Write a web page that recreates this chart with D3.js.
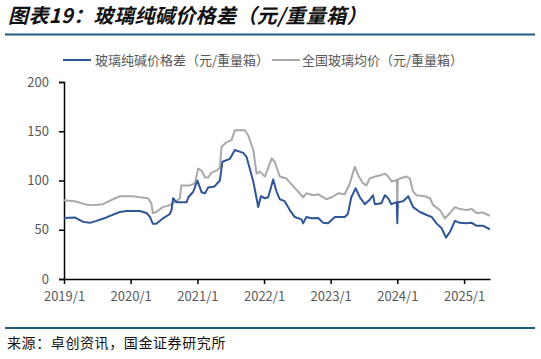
<!DOCTYPE html>
<html><head><meta charset="utf-8">
<script src="https://cdn.jsdelivr.net/npm/d3@7"></script>
<style>
html,body{margin:0;padding:0;background:#fff;}
svg{display:block;}
text{font-family:"Noto Sans CJK SC","Noto Sans",sans-serif;}
</style></head><body>
<svg id="c" width="541" height="359"></svg>
<script>
const titleText = "图表19：玻璃纯碱价格差（元/重量箱）";
const sourceText = "来源：卓创资讯，国金证券研究所";
const seriesNames = ["玻璃纯碱价格差（元/重量箱）", "全国玻璃均价（元/重量箱）"];
const yTicks = [0, 50, 100, 150, 200];
const xTickLabels = ["2019/1","2020/1","2021/1","2022/1","2023/1","2024/1","2025/1"];
const xDomain = ["2019-01-01", "2025-05-23"];

const spreadDates = ["2019-01-01","2019-03-01","2019-04-16","2019-05-22","2019-06-28","2019-08-21","2019-11-03","2019-12-09","2020-02-20","2020-03-28","2020-04-16","2020-05-02","2020-05-20","2020-06-26","2020-08-03","2020-08-12","2020-08-21","2020-09-07","2020-11-03","2020-11-12","2020-12-09","2021-01-01","2021-01-24","2021-02-12","2021-03-01","2021-04-05","2021-05-04","2021-05-18","2021-06-28","2021-07-25","2021-09-09","2021-09-27","2021-11-03","2021-11-21","2021-11-30","2021-12-15","2022-01-06","2022-01-24","2022-02-20","2022-03-10","2022-03-28","2022-04-24","2022-05-22","2022-06-18","2022-07-25","2022-08-03","2022-08-21","2022-09-18","2022-10-25","2022-11-21","2022-12-18","2023-01-24","2023-03-19","2023-04-05","2023-04-24","2023-05-18","2023-06-10","2023-07-07","2023-08-03","2023-08-21","2023-08-31","2023-10-06","2023-10-25","2023-11-12","2023-11-30","2023-12-29","2024-01-01","2024-01-04","2024-02-02","2024-03-01","2024-03-28","2024-05-04","2024-06-10","2024-07-07","2024-08-03","2024-08-31","2024-09-24","2024-10-16","2024-11-12","2024-12-09","2025-01-15","2025-02-12","2025-03-10","2025-04-16","2025-05-22"];
const spreadValues = [62,62.5,58,57,59,62.5,68,69,69,67,63,56,56,61.5,66,70,82,78,78,83,88.6,100,88,87,93,94,100,119,122,131,128,124,99,82,73,84,82,83,101,89,81,79,70,63,60.5,56.5,63,61.6,62,57,56.5,63,63,66,83,92,83,76,80.5,85,76,77,85,82,76,78,56.5,78,79,84,73,68,65,63,56.5,51.5,42,48,59,57,56.5,57,54,54,50.5];

const glassDates = ["2019-01-01","2019-03-01","2019-05-05","2019-06-08","2019-08-03","2019-09-27","2019-11-03","2020-01-15","2020-02-20","2020-04-05","2020-04-23","2020-05-02","2020-05-20","2020-06-26","2020-08-02","2020-09-07","2020-09-27","2020-10-05","2020-11-20","2020-12-18","2021-01-05","2021-01-24","2021-02-12","2021-03-01","2021-03-19","2021-04-16","2021-05-04","2021-05-13","2021-06-10","2021-07-07","2021-07-25","2021-09-18","2021-10-06","2021-11-03","2021-11-21","2021-12-09","2022-01-06","2022-02-12","2022-03-01","2022-03-28","2022-05-04","2022-06-10","2022-07-16","2022-08-03","2022-08-21","2022-09-27","2022-10-25","2022-12-09","2023-01-06","2023-02-12","2023-03-19","2023-04-16","2023-05-13","2023-05-31","2023-06-28","2023-07-16","2023-08-03","2023-08-31","2023-09-27","2023-10-25","2023-11-12","2023-11-30","2023-12-29","2024-01-01","2024-01-04","2024-01-15","2024-02-20","2024-03-10","2024-03-28","2024-04-16","2024-05-31","2024-06-28","2024-07-16","2024-08-21","2024-09-18","2024-10-06","2024-11-12","2024-12-09","2025-01-15","2025-02-12","2025-03-10","2025-04-16","2025-05-22"];
const glassValues = [80,79,75.5,75,76,81,84,84,83,82,77,67,68,73,75,79,82,95,95,97,112,110,103,103,108,110,113,134,139,141,151,151,146,131,107,109,104,122.5,119,104,102,94,87,83,87,85,86,81,83,87,86,97,114,105.5,97,95,102,104,105,107,104,99,100.5,72,101,102,104,102,88.6,85,84,82,75,70,61.6,65,73,71,70,71,67,67.5,64];

const colors = ["#2F5597", "#A9A9A9"];
const parse = d3.timeParse("%Y-%m-%d");

const svg = d3.select("#c");
const x = d3.scaleTime().domain(xDomain.map(parse)).range([64, 490]);
const y = d3.scaleLinear().domain([0, 200]).range([279, 82]);

// title
svg.append("text").attr("x", 8).attr("y", 23).text(titleText)
  .attr("font-size", 20).attr("letter-spacing", 0.4).attr("font-weight", "bold")
  .attr("font-style", "italic").attr("fill", "#111");
svg.append("line").attr("x1", 5).attr("x2", 535).attr("y1", 34.5).attr("y2", 34.5)
  .attr("stroke", "#1E5C7E").attr("stroke-width", 2);
svg.append("line").attr("x1", 5).attr("x2", 535).attr("y1", 328).attr("y2", 328)
  .attr("stroke", "#1E5C7E").attr("stroke-width", 2);
svg.append("text").attr("x", 7).attr("y", 348).text(sourceText)
  .attr("font-size", 14).attr("letter-spacing", 0.6).attr("fill", "#111");

// legend
const legendPos = [{lx: 63, tx: 95}, {lx: 272, tx: 302}];
seriesNames.forEach((n, i) => {
  svg.append("line").attr("x1", legendPos[i].lx).attr("x2", legendPos[i].lx + 28)
    .attr("y1", 60).attr("y2", 60).attr("stroke", colors[i]).attr("stroke-width", 2);
  svg.append("text").attr("x", legendPos[i].tx).attr("y", 65).text(n)
    .attr("font-size", 13).attr("fill", "#595959");
});

// axes
const yAxis = d3.axisLeft(y).tickValues(yTicks).tickSize(5).tickPadding(10);
const gy = svg.append("g").attr("transform", "translate(64,0)").call(yAxis);
gy.select(".domain").attr("stroke", "#000").attr("stroke-width", 1.5);
gy.selectAll(".tick line").attr("stroke", "#000").attr("stroke-width", 1.5);
gy.selectAll(".tick text").attr("font-size", 13).attr("fill", "#595959")
  .attr("font-family", "'Noto Sans','Noto Sans CJK SC',sans-serif");

const xTickDates = xTickLabels.map(s => parse(s.replace("/1", "-01-01")));
const xAxis = d3.axisBottom(x).tickValues(xTickDates).tickSize(5).tickSizeOuter(0)
  .tickPadding(8).tickFormat((d, i) => xTickLabels[i]);
const gx = svg.append("g").attr("transform", "translate(0,279)").call(xAxis);
gx.select(".domain").attr("stroke", "#000").attr("stroke-width", 1.5);
gx.selectAll(".tick line").attr("stroke", "#000").attr("stroke-width", 1.5);
gx.selectAll(".tick text").attr("font-size", 13).attr("fill", "#595959")
  .attr("font-family", "'Noto Sans','Noto Sans CJK SC',sans-serif");

// lines
const line = d3.line().x(d => x(d[0])).y(d => y(d[1]));
const glass = glassDates.map((d, i) => [parse(d), glassValues[i]]);
const spread = spreadDates.map((d, i) => [parse(d), spreadValues[i]]);
svg.append("path").datum(glass).attr("d", line).attr("fill", "none")
  .attr("stroke", colors[1]).attr("stroke-width", 2).attr("stroke-linejoin", "round");
svg.append("path").datum(spread).attr("d", line).attr("fill", "none")
  .attr("stroke", colors[0]).attr("stroke-width", 2).attr("stroke-linejoin", "round");
</script></body></html>
